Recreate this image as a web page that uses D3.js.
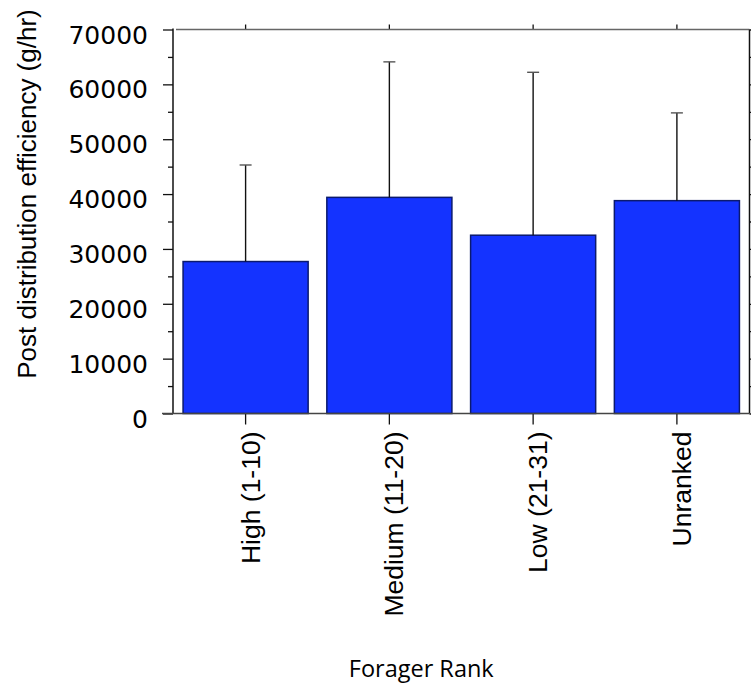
<!DOCTYPE html>
<html>
<head>
<meta charset="utf-8">
<script src="https://cdn.jsdelivr.net/npm/d3@7/dist/d3.min.js"></script>
<style>
  html, body { margin: 0; padding: 0; background: #fff; }
  svg { display: block; }
</style>
</head>
<body>
<svg id="chart" width="751" height="687"></svg>
<script>
// Forager rank groups and post-distribution efficiency (g/hr)
const categories = ["High (1-10)", "Medium (11-20)", "Low (21-31)", "Unranked"];
const meanEfficiency = [27700, 39400, 32500, 38800];
const upperError = [17600, 24700, 29700, 16000];
const yMajorTicks = [0, 10000, 20000, 30000, 40000, 50000, 60000, 70000];
const yMinorTicks = [5000, 15000, 25000, 35000, 45000, 55000, 65000];

const svg = d3.select("#chart");
const plotLeft = 173, plotRight = 749.5, plotTop = 29.5, plotBottom = 413.5;

const x = d3.scaleBand()
  .domain(categories)
  .range([plotLeft, plotRight])
  .paddingInner(0.13)
  .paddingOuter(0.07);

const y = d3.scaleLinear()
  .domain([0, 70000])
  .range([plotBottom, plotTop]);

const barFill = "#1433ff";
const barStroke = "#0b1a6e";

// bars
svg.append("g").selectAll("rect")
  .data(categories)
  .join("rect")
  .attr("x", d => x(d))
  .attr("y", (d, i) => y(meanEfficiency[i]))
  .attr("width", x.bandwidth())
  .attr("height", (d, i) => y(0) - y(meanEfficiency[i]))
  .attr("fill", barFill)
  .attr("stroke", barStroke)
  .attr("stroke-width", 1.5);

// upper error bars
const err = svg.append("g").attr("stroke", "#111").attr("stroke-width", 1.4);
categories.forEach((c, i) => {
  const cx = x(c) + x.bandwidth() / 2;
  const yTop = y(meanEfficiency[i] + upperError[i]);
  err.append("line")
    .attr("x1", cx).attr("x2", cx)
    .attr("y1", y(meanEfficiency[i])).attr("y2", yTop);
  err.append("line")
    .attr("x1", cx - 6).attr("x2", cx + 6)
    .attr("y1", yTop).attr("y2", yTop)
    .attr("stroke", "#555");
});

function styleAxis(g) {
  g.select(".domain").remove();
  g.selectAll(".tick line").attr("stroke", "#111").attr("stroke-width", 1.3);
}

// left axis: major ticks with labels
svg.append("g")
  .attr("transform", `translate(${plotLeft},0)`)
  .call(d3.axisLeft(y).tickValues(yMajorTicks).tickSize(10).tickPadding(15).tickFormat(d3.format("d")))
  .call(styleAxis)
  .call(g => g.selectAll("text")
    .attr("dy", "13.5")
    .attr("fill", "#000")
    .style("font-family", "'DejaVu Sans', sans-serif")
    .style("font-size", "25px"));

// left axis: minor ticks
svg.append("g")
  .attr("transform", `translate(${plotLeft},0)`)
  .call(d3.axisLeft(y).tickValues(yMinorTicks).tickSize(5).tickFormat(""))
  .call(styleAxis);

// right axis ticks
svg.append("g")
  .attr("transform", `translate(${plotRight},0)`)
  .call(d3.axisRight(y).tickValues(yMajorTicks.concat(yMinorTicks)).tickSize(5).tickFormat(""))
  .call(styleAxis);

// top axis ticks
svg.append("g")
  .attr("transform", `translate(0,${plotTop})`)
  .call(d3.axisTop(x).tickSize(5).tickFormat(""))
  .call(styleAxis);

// bottom axis with rotated category labels
svg.append("g")
  .attr("transform", `translate(0,${plotBottom})`)
  .call(d3.axisBottom(x).tickSize(11))
  .call(styleAxis)
  .call(g => g.selectAll("text")
    .attr("transform", "rotate(-90)")
    .attr("x", -18)
    .attr("y", 14)
    .attr("dy", 0)
    .attr("text-anchor", "end")
    .attr("fill", "#000")
    .style("font-family", "'Liberation Sans', Arial, sans-serif")
    .style("font-size", "26.5px"));

// plot frame
const frame = svg.append("g").attr("fill", "none");
frame.append("line").attr("x1", plotLeft + 3).attr("x2", plotRight).attr("y1", plotTop).attr("y2", plotTop)
  .attr("stroke", "#666").attr("stroke-width", 1.5);
frame.append("line").attr("x1", plotRight).attr("x2", plotRight).attr("y1", plotTop).attr("y2", plotBottom)
  .attr("stroke", "#111").attr("stroke-width", 1.5);
frame.append("line").attr("x1", plotLeft).attr("x2", plotLeft).attr("y1", plotTop - 1).attr("y2", plotBottom)
  .attr("stroke", "#111").attr("stroke-width", 1.5);
frame.append("line").attr("x1", plotLeft - 11).attr("x2", plotRight).attr("y1", plotBottom).attr("y2", plotBottom)
  .attr("stroke", "#444").attr("stroke-width", 1.5);

// axis titles
svg.append("text")
  .attr("transform", "translate(36,194) rotate(-90)")
  .attr("text-anchor", "middle")
  .style("font-family", "'Liberation Sans', Arial, sans-serif")
  .style("font-size", "26px")
  .text("Post distribution efficiency (g/hr)");

svg.append("text")
  .attr("x", (plotLeft + plotRight) / 2 - 40)
  .attr("y", 677)
  .attr("text-anchor", "middle")
  .style("font-family", "'Open Sans', sans-serif")
  .style("font-size", "23.5px")
  .text("Forager Rank");
</script>
</body>
</html>
